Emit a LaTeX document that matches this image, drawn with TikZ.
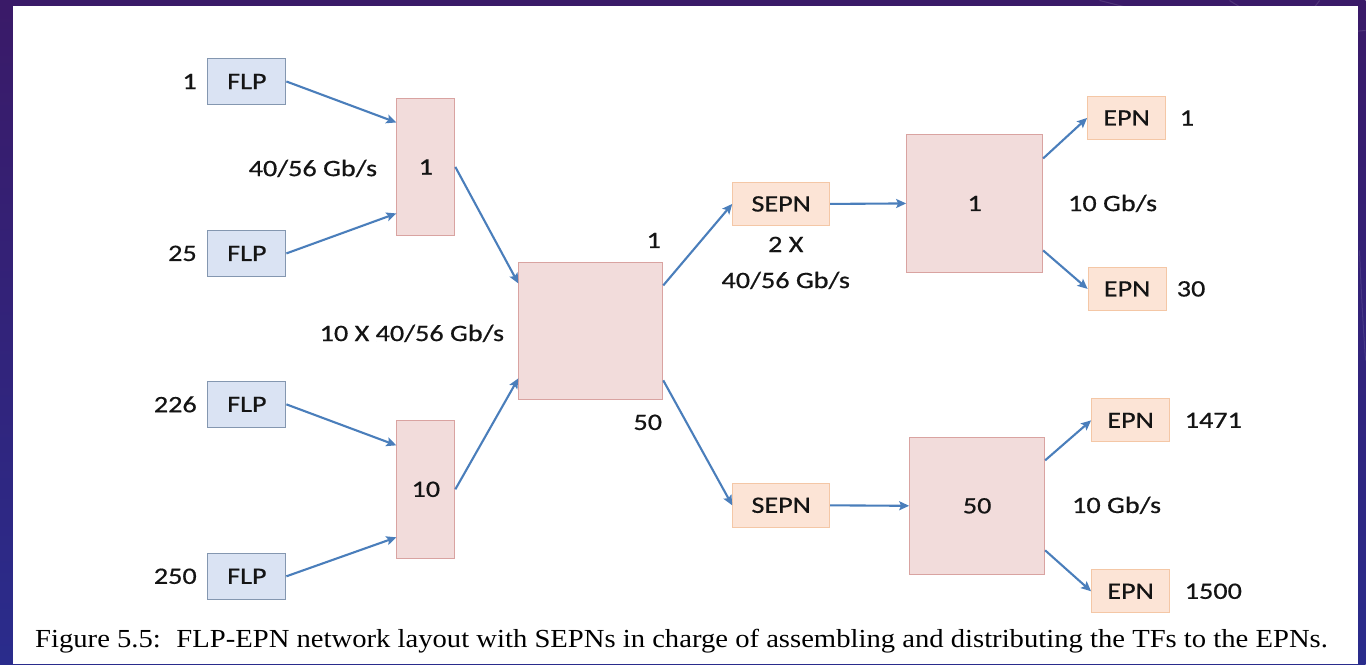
\documentclass[tikz,border=0pt]{standalone}
\usepackage{fontspec}
\setmainfont{Carlito}[FakeStretch=1.2,FakeBold=0.6]
\newfontfamily\capfont{Liberation Serif}[FakeStretch=1.102]
\usetikzlibrary{arrows.meta,calc}
\definecolor{flpfill}{HTML}{DAE3F3}
\definecolor{flpdraw}{HTML}{8497B0}
\definecolor{swfill}{HTML}{F2DCDB}
\definecolor{swdraw}{HTML}{D9A3A1}
\definecolor{epnfill}{HTML}{FCE4D6}
\definecolor{epndraw}{HTML}{F4C7A6}
\definecolor{arr}{HTML}{4A7EBB}
\definecolor{txt}{HTML}{141414}
\definecolor{bgtop}{HTML}{3A1A68}
\definecolor{bgbot}{HTML}{2A2C8C}
\begin{document}
\begin{tikzpicture}[x=1pt,y=-1pt,
  every node/.style={font=\fontsize{23.5}{26}\selectfont, text=txt, inner sep=0pt},
  flp/.style={draw=flpdraw, fill=flpfill, line width=1pt, minimum width=78pt, minimum height=46pt},
  sw/.style={draw=swdraw, fill=swfill, line width=1pt},
  epn/.style={draw=epndraw, fill=epnfill, line width=1pt, minimum width=78pt, minimum height=43pt},
  lnk/.style={draw=arr, line width=2.1pt, -{Stealth[length=10pt,width=9pt,inset=2pt]}}
]
% background
\shade[top color=bgtop, bottom color=bgbot] (0,0) rectangle (1366,664);
\draw[white, opacity=0.12, line width=1pt] (1100,0) .. controls (1180,20) and (1250,40) .. (1366,30);
\draw[white, opacity=0.12, line width=1pt] (1230,0) .. controls (1260,20) and (1300,30) .. (1320,0);
\draw[white, opacity=0.10, line width=1pt] (1360,250) .. controls (1362,300) and (1364,330) .. (1366,360);
\fill[white] (13,5) rectangle (1358,664);
\useasboundingbox (0,0) rectangle (1366,664);

% FLPs
\node[flp] (flp1) at (247,81) {FLP};
\node[flp] (flp25) at (247,253) {FLP};
\node[flp] (flp226) at (247,404) {FLP};
\node[flp] (flp250) at (247,576) {FLP};
\node[anchor=east] (n1) at (197,81) {1};
\node[anchor=east] (n25) at (197,253) {25};
\node[anchor=east] (n226) at (197,404) {226};
\node[anchor=east] (n250) at (197,576) {250};

% first-level switches
\node[sw, minimum width=58pt, minimum height=137pt] (sw1) at (426,166.5) {1};
\node[sw, minimum width=58pt, minimum height=138pt] (sw10) at (426,489) {10};
\node (r1) at (313,168) {40/56 Gb/s};

% central switch
\node[sw, minimum width=144pt, minimum height=137pt] (core) at (591,330.5) {};
\node (r2) at (412,333) {10 X 40/56 Gb/s};
\node (c1) at (654,240) {1};
\node (c50) at (648,422) {50};

% SEPNs
\node[epn, minimum width=97pt, minimum height=43pt] (sepn1) at (781.5,203.5) {SEPN};
\node[epn, minimum width=97pt, minimum height=44pt] (sepn2) at (781.5,505) {SEPN};
\node (r3a) at (786,244) {2 X};
\node (r3b) at (786,280) {40/56 Gb/s};

% EPN switches
\node[sw, minimum width=136pt, minimum height=138pt] (box1) at (975,203) {1};
\node[sw, minimum width=135pt, minimum height=137pt] (box50) at (977.5,505.5) {50};
\node (r4) at (1113,203) {10 Gb/s};
\node (r5) at (1117,505) {10 Gb/s};

% EPNs
\node[epn] (epn1) at (1127,117.5) {EPN};
\node[epn] (epn30) at (1127.5,288.5) {EPN};
\node[epn] (epn1471) at (1131,420) {EPN};
\node[epn] (epn1500) at (1131,591) {EPN};
\node[anchor=west] (e1) at (1180,117.5) {1};
\node[anchor=west] (e30) at (1177,288.5) {30};
\node[anchor=west] (e1471) at (1185,420) {1471};
\node[anchor=west] (e1500) at (1185,591) {1500};

% connectors
\draw[lnk] (flp1.east) -- ([yshift=44.5pt]sw1.west);
\draw[lnk] (flp25.east) -- ([yshift=-46.5pt]sw1.west);
\draw[lnk] (flp226.east) -- ([yshift=44pt]sw10.west);
\draw[lnk] (flp250.east) -- ([yshift=-48pt]sw10.west);
\draw[lnk] (sw1.east) -- ([yshift=47.5pt]core.west);
\draw[lnk] (sw10.east) -- ([yshift=-47.5pt]core.west);
\draw[lnk] ([yshift=45.5pt]core.east) -- (sepn1.west);
\draw[lnk] ([yshift=-49.5pt]core.east) -- (sepn2.west);
\draw[lnk] (sepn1.east) -- (box1.west);
\draw[lnk] (sepn2.east) -- (box50.west);
\draw[lnk] ([yshift=45pt]box1.east) -- (epn1.west);
\draw[lnk] ([yshift=-47pt]box1.east) -- (epn30.west);
\draw[lnk] ([yshift=45.5pt]box50.east) -- (epn1471.west);
\draw[lnk] ([yshift=-44.5pt]box50.east) -- (epn1500.west);

% caption
\node[anchor=base west, font=\capfont\fontsize{26}{28}\selectfont, text=black] (cap) at (35,647)
  {Figure 5.5:\hspace{0.6em}FLP-EPN network layout with SEPNs in charge of assembling and distributing the TFs to the EPNs.};
\end{tikzpicture}
\end{document}
